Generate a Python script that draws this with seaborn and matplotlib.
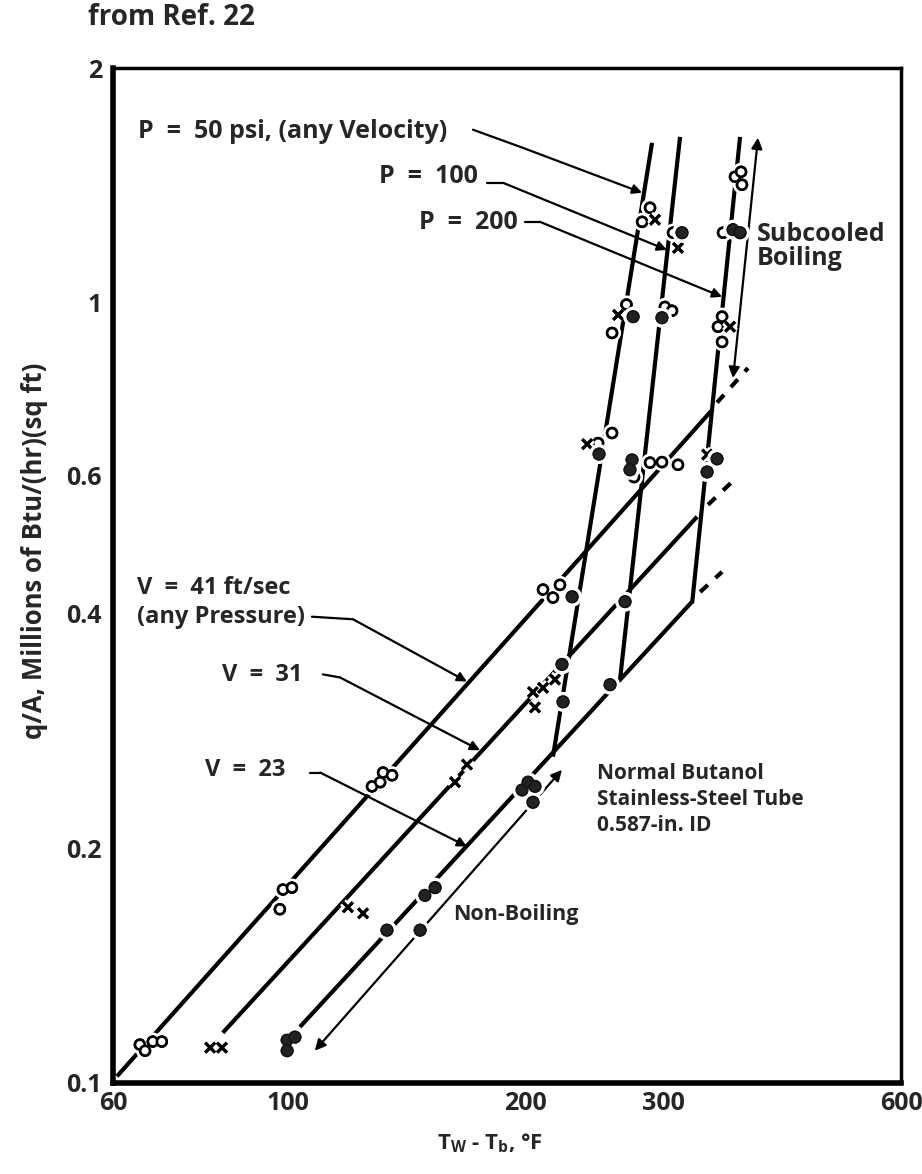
import matplotlib
matplotlib.use("Agg")
import matplotlib.pyplot as plt
import matplotlib.patheffects as pe
import seaborn as sns

# ---- data (data units) ----
# velocity lines: solid part, then dashed extension beyond the P = 200 line
v41_x = [60.7, 345.5]
v41_y = [0.102, 0.729]
v41_dash_x = [350.5, 383.7]
v41_dash_y = [0.745, 0.825]
v31_x = [82.7, 330.7]
v31_y = [0.116, 0.532]
v31_dash_x = [341.4, 371.6]
v31_dash_y = [0.551, 0.598]
v23_x = [103.6, 325.9]
v23_y = [0.118, 0.414]
v23_dash_x = [333.6, 355.7]
v23_dash_y = [0.426, 0.452]

# pressure lines (steep)
p50_x = [217.0, 289.9]
p50_y = [0.262, 1.604]
p100_x = [264.0, 314.6]
p100_y = [0.329, 1.632]
p200_x = [325.9, 374.9]
p200_y = [0.412, 1.632]

# data points
open_x = [64.9, 65.9, 67.4, 69.2, 97.7, 98.6, 101.2, 127.9, 131.0, 132.1, 135.6,
          210.8, 217.0, 221.5, 247.6, 257.9, 275.0, 288.2, 298.4, 312.7,
          269.0, 257.9, 301.0, 307.3, 355.7, 351.5, 355.7, 288.2, 281.6, 308.2,
          369.4, 376.0, 377.0, 356.7]
open_y = [0.112, 0.110, 0.113, 0.113, 0.167, 0.177, 0.178, 0.240, 0.243, 0.250, 0.248,
          0.429, 0.419, 0.435, 0.661, 0.681, 0.598, 0.624, 0.625, 0.620,
          0.995, 0.915, 0.988, 0.977, 0.960, 0.932, 0.891, 1.324, 1.270, 1.230,
          1.451, 1.472, 1.417, 1.230]
cross_x = [79.7, 82.5, 119.2, 124.6, 163.0, 168.8, 204.7, 210.8, 218.3, 205.9,
           239.8, 262.5, 364.1, 340.5, 292.4, 312.7]
cross_y = [0.111, 0.111, 0.168, 0.165, 0.243, 0.256, 0.317, 0.321, 0.329, 0.303,
           0.659, 0.965, 0.932, 0.639, 1.278, 1.176]
fill_x = [99.8, 102.1, 99.8, 133.6, 147.2, 149.3, 153.8, 198.3, 201.8, 205.9, 204.7,
          223.5, 222.8, 256.4, 248.3, 273.4, 271.8, 274.3, 298.4, 350.5, 340.5,
          316.4, 367.3, 374.9, 229.5, 267.9]
fill_y = [0.1135, 0.1145, 0.110, 0.157, 0.157, 0.174, 0.178, 0.2375, 0.243, 0.240, 0.229,
          0.308, 0.344, 0.324, 0.640, 0.629, 0.611, 0.960, 0.957, 0.631, 0.607,
          1.230, 1.241, 1.230, 0.420, 0.414]

# leader lines: [label end, bend, arrow tip]
lead_p50 = ([171.8, 198.8, 281.6], [1.667, 1.580, 1.384])
lead_p100 = ([179.0, 187.6, 302.8], [1.425, 1.425, 1.169])
lead_p200 = ([200.0, 209.0, 355.7], [1.270, 1.270, 1.018])
lead_v41 = ([107.3, 121.0, 168.8], [0.396, 0.393, 0.327])
lead_v31 = ([110.8, 116.5, 175.3], [0.334, 0.331, 0.267])
lead_v23 = ([106.7, 109.9, 168.8], [0.250, 0.250, 0.201])

# double arrows marking the regimes
nonboil_x = [108.2, 222.8]
nonboil_y = [0.110, 0.252]
subcool_x = [367.3, 395.1]
subcool_y = [0.801, 1.628]

x_ticks = [60, 100, 200, 300, 600]
x_minor = [70, 80, 90, 400, 500]
y_ticks = [0.1, 0.2, 0.4, 0.6, 1, 2]
y_minor = [0.3, 0.5, 0.7, 0.8, 0.9]

sns.set_style("white")
plt.rcParams["font.family"] = ["Open Sans", "DejaVu Sans"]
plt.rcParams["font.weight"] = "bold"

fig = plt.figure(figsize=(9.22, 11.74), dpi=100)
ax = fig.add_axes([113 / 922, 1 - 1083 / 1174, 788 / 922, 1015 / 1174])
ax.set_xscale("log")
ax.set_yscale("log")
ax.set_xlim(60, 600)
ax.set_ylim(0.1, 2)

thick = dict(color="black", lw=3.0, solid_capstyle="butt")
for xs, ys in [(v41_x, v41_y), (v31_x, v31_y), (v23_x, v23_y),
               (p50_x, p50_y), (p100_x, p100_y), (p200_x, p200_y)]:
    sns.lineplot(x=xs, y=ys, ax=ax, sort=False, estimator=None, **thick)
for xs, ys in [(v41_dash_x, v41_dash_y), (v31_dash_x, v31_dash_y), (v23_dash_x, v23_dash_y)]:
    sns.lineplot(x=xs, y=ys, ax=ax, sort=False, estimator=None, color="black",
                 lw=3.0, linestyle=(0, (2.5, 2.5)))

halo = [pe.withStroke(linewidth=6, foreground="white")]
sns.scatterplot(x=open_x, y=open_y, ax=ax, marker="o", s=50, facecolor="white",
                edgecolor="black", linewidth=1.9, zorder=5)
sns.scatterplot(x=cross_x, y=cross_y, ax=ax, marker="x", s=50, color="black",
                linewidth=2.2, zorder=5)
sns.scatterplot(x=fill_x, y=fill_y, ax=ax, marker="o", s=70, color="#222222",
                edgecolor="#111111", linewidth=1.0, zorder=5)
for coll in ax.collections:
    coll.set_path_effects(halo + [pe.Normal()])

# leader lines with arrow heads
for xs, ys in [lead_p50, lead_p100, lead_p200, lead_v41, lead_v31, lead_v23]:
    ax.plot(xs[:2], ys[:2], color="black", lw=1.6)
    ax.annotate("", xy=(xs[2], ys[2]), xytext=(xs[1], ys[1]),
                arrowprops=dict(arrowstyle="-|>", color="black", lw=1.6,
                                mutation_scale=14, shrinkA=0, shrinkB=0))

for xs, ys in [(nonboil_x, nonboil_y), (subcool_x, subcool_y)]:
    ax.annotate("", xy=(xs[0], ys[0]), xytext=(xs[1], ys[1]),
                arrowprops=dict(arrowstyle="<|-|>", color="black", lw=1.6,
                                mutation_scale=16, shrinkA=0, shrinkB=0))

# axes styling
for side in ["left", "bottom"]:
    ax.spines[side].set_linewidth(4.0)
for side in ["top", "right"]:
    ax.spines[side].set_linewidth(2.5)
for sp in ax.spines.values():
    sp.set_color("black")

ax.set_xticks(x_ticks)
ax.set_xticklabels([str(v) for v in x_ticks], fontweight="bold", fontsize=18)
ax.set_xticks(x_minor, minor=True)
ax.set_xticklabels([], minor=True)
ax.set_yticks(y_ticks)
ax.set_yticklabels(["0.1", "0.2", "0.4", "0.6", "1", "2"], fontweight="bold", fontsize=18)
ax.set_yticks(y_minor, minor=True)
ax.set_yticklabels([], minor=True)
ax.tick_params(axis="both", which="both", direction="in", color="black", width=1.8,
               top=False, right=False)
ax.tick_params(axis="x", which="both", length=17, pad=6)
ax.tick_params(axis="y", which="both", length=17, pad=8)

big = dict(transform=ax.transAxes, fontsize=18, fontweight="bold", va="center")
mid = dict(transform=ax.transAxes, fontsize=17, fontweight="bold", va="center")
small = dict(transform=ax.transAxes, fontsize=15, fontweight="bold", va="center")
ax.text(0.032, 0.937, "P  =  50 psi, (any Velocity)", ha="left", **big)
ax.text(0.463, 0.893, "P  =  100", ha="right", **big)
ax.text(0.514, 0.848, "P  =  200", ha="right", **big)
ax.text(0.817, 0.836, "Subcooled", ha="left", **big)
ax.text(0.817, 0.812, "Boiling", ha="left", **big)
ax.text(0.030, 0.488, "V  =  41 ft/sec", ha="left", **mid)
ax.text(0.030, 0.459, "(any Pressure)", ha="left", **mid)
ax.text(0.138, 0.402, "V  =  31", ha="left", **mid)
ax.text(0.117, 0.308, "V  =  23", ha="left", **mid)
ax.text(0.614, 0.305, "Normal Butanol", ha="left", **small)
ax.text(0.614, 0.279, "Stainless-Steel Tube", ha="left", **small)
ax.text(0.614, 0.254, "0.587-in. ID", ha="left", **small)
ax.text(0.431, 0.166, "Non-Boiling", ha="left", fontsize=15.5, fontweight="bold",
        va="center", transform=ax.transAxes)

fig.text(0.095, 0.985, "from Ref. 22", fontsize=20, fontweight="bold", va="center")
fig.text(0.531, 0.026, r"T$_\mathregular{W}$ - T$_\mathregular{b}$, °F", fontsize=16,
         fontweight="bold", ha="center", va="center")
fig.text(0.037, 0.531, "q/A, Millions of Btu/(hr)(sq ft)", fontsize=18.5,
         fontweight="bold", rotation=90, ha="center", va="center")

fig.savefig("out.png", dpi=100)
